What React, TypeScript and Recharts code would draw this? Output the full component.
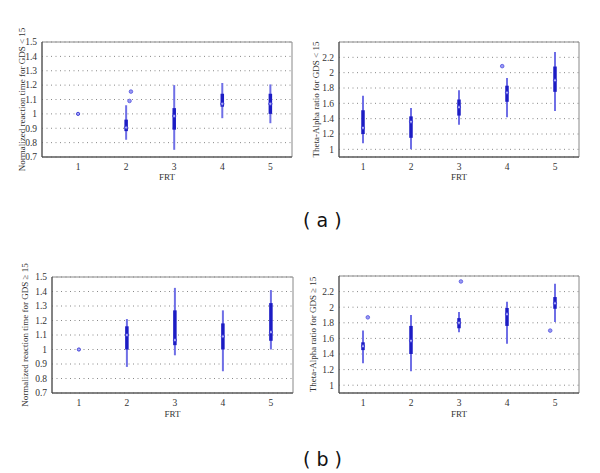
import { ScatterChart, Scatter, ErrorBar, XAxis, YAxis, CartesianGrid, ReferenceArea } from "recharts";

const frt = [1, 2, 3, 4, 5];
const rtTicks = [0.7, 0.8, 0.9, 1, 1.1, 1.2, 1.3, 1.4, 1.5];
const ratioTicks = [1, 1.2, 1.4, 1.6, 1.8, 2, 2.2];

// (a) GDS < 15 — normalized reaction time
const rtLowWhiskLo = [1, 0.82, 0.75, 0.97, 0.935];
const rtLowBoxLo = [1, 0.88, 0.89, 1.05, 1.0];
const rtLowMedian = [1, 0.905, 0.985, 1.07, 1.07];
const rtLowBoxHi = [1, 0.96, 1.04, 1.14, 1.14];
const rtLowWhiskHi = [1, 1.06, 1.2, 1.215, 1.205];
const rtLowOutX = [2.07, 2.1];
const rtLowOutY = [1.09, 1.155];

// (a) GDS < 15 — theta-alpha ratio
const taLowWhiskLo = [1.08, 1.0, 1.32, 1.42, 1.5];
const taLowBoxLo = [1.2, 1.15, 1.44, 1.62, 1.75];
const taLowMedian = [1.28, 1.36, 1.55, 1.74, 1.9];
const taLowBoxHi = [1.51, 1.43, 1.65, 1.83, 2.08];
const taLowWhiskHi = [1.7, 1.54, 1.77, 1.93, 2.27];
const taLowOutX = [3.9];
const taLowOutY = [2.085];

// (b) GDS >= 15 — normalized reaction time
const rtHighWhiskLo = [1, 0.88, 0.96, 0.85, 1.0];
const rtHighBoxLo = [1, 1.0, 1.03, 1.0, 1.06];
const rtHighMedian = [1, 1.1, 1.065, 1.09, 1.12];
const rtHighBoxHi = [1, 1.16, 1.27, 1.18, 1.32];
const rtHighWhiskHi = [1, 1.21, 1.425, 1.27, 1.41];
const rtHighOutX: number[] = [];
const rtHighOutY: number[] = [];

// (b) GDS >= 15 — theta-alpha ratio
const taHighWhiskLo = [1.28, 1.18, 1.68, 1.53, 1.81];
const taHighBoxLo = [1.45, 1.4, 1.73, 1.76, 1.98];
const taHighMedian = [1.5, 1.57, 1.8, 1.91, 2.05];
const taHighBoxHi = [1.55, 1.76, 1.86, 1.99, 2.13];
const taHighWhiskHi = [1.7, 1.9, 1.94, 2.07, 2.3];
const taHighOutX = [1.1, 3.04, 4.9];
const taHighOutY = [1.87, 2.33, 1.7];

const boxRows = (lo: number[], bLo: number[], med: number[], bHi: number[], hi: number[]) =>
  frt.map((x, i) => ({
    x,
    y: med[i],
    whisk: [med[i] - lo[i], hi[i] - med[i]],
    box: [med[i] - bLo[i], bHi[i] - med[i]],
  }));

const outRows = (xs: number[], ys: number[]) => xs.map((x, i) => ({ x, y: ys[i] }));

const serif = "'Liberation Serif', 'DejaVu Serif', serif";
const tickStyle = { fontSize: 9.5, fill: "#333", fontFamily: serif };
const labelStyle = { fontSize: 9, fill: "#333", fontFamily: serif };

const MedianDot = (p: any) => (
  <circle cx={p.cx} cy={p.cy} r={1.6} fill="#a8a8f8" stroke="#3030d0" strokeWidth={0.9} />
);
const OutlierDot = (p: any) => (
  <circle cx={p.cx} cy={p.cy} r={1.8} fill="#9a9af2" stroke="#5050e0" strokeWidth={0.8} />
);

interface PanelProps {
  left: number;
  top: number;
  margin: { top: number; right: number; bottom: number; left: number };
  yWidth: number;
  xHeight: number;
  xDomain: [number, number];
  yDomain: [number, number];
  yTicks: number[];
  rows: any[];
  outliers: any[];
  yLabel: string;
  yLabelOffset: number;
  xLabelOffset: number;
}

function Panel(p: PanelProps) {
  return (
    <div style={{ position: "absolute", left: p.left, top: p.top, fontFamily: serif }}>
      <ScatterChart width={300} height={200} margin={p.margin}>
        <CartesianGrid horizontal vertical={false} stroke="#888" strokeDasharray="1 3.5" />
        <XAxis
          type="number"
          dataKey="x"
          domain={p.xDomain}
          ticks={frt}
          interval={0}
          allowDataOverflow
          height={p.xHeight}
          tickSize={0}
          tickMargin={6}
          tick={tickStyle}
          axisLine={{ stroke: "#444" }}
          label={{ value: "FRT", position: "insideTop", offset: p.xLabelOffset, style: labelStyle }}
        />
        <YAxis
          type="number"
          dataKey="y"
          domain={p.yDomain}
          ticks={p.yTicks}
          interval={0}
          allowDataOverflow
          width={p.yWidth}
          tickSize={0}
          tickMargin={5}
          tick={tickStyle}
          axisLine={{ stroke: "#444" }}
          label={{
            value: p.yLabel,
            angle: -90,
            position: "insideLeft",
            offset: p.yLabelOffset,
            style: { ...labelStyle, textAnchor: "middle" },
          }}
        />
        <ReferenceArea
          x1={p.xDomain[0]}
          x2={p.xDomain[1]}
          y1={p.yDomain[0]}
          y2={p.yDomain[1]}
          fill="none"
          stroke="#888"
          strokeWidth={1}
        />
        <Scatter data={p.rows} isAnimationActive={false} shape={MedianDot}>
          <ErrorBar dataKey="whisk" direction="y" width={0} stroke="#6f6fe6" strokeWidth={2} />
          <ErrorBar dataKey="box" direction="y" width={0} stroke="#1c1cc4" strokeWidth={3.5} />
        </Scatter>
        <Scatter data={p.outliers} isAnimationActive={false} shape={OutlierDot} />
      </ScatterChart>
    </div>
  );
}

export default function App() {
  return (
    <div
      style={{
        position: "absolute",
        left: 0,
        top: 0,
        width: 600,
        height: 473,
        background: "#fff",
        overflow: "hidden",
      }}
    >
      <Panel
        left={0}
        top={0}
        margin={{ top: 42, right: 8, bottom: 0, left: 0 }}
        yWidth={42}
        xHeight={43}
        xDomain={[0.25, 5.45]}
        yDomain={[0.7, 1.5]}
        yTicks={rtTicks}
        rows={boxRows(rtLowWhiskLo, rtLowBoxLo, rtLowMedian, rtLowBoxHi, rtLowWhiskHi)}
        outliers={outRows(rtLowOutX, rtLowOutY)}
        yLabel="Normalized reaction time for GDS < 15"
        yLabelOffset={22}
        xLabelOffset={17}
      />
      <Panel
        left={300}
        top={0}
        margin={{ top: 42, right: 21, bottom: 0, left: 0 }}
        yWidth={39}
        xHeight={43}
        xDomain={[0.5, 5.5]}
        yDomain={[0.9, 2.4]}
        yTicks={ratioTicks}
        rows={boxRows(taLowWhiskLo, taLowBoxLo, taLowMedian, taLowBoxHi, taLowWhiskHi)}
        outliers={outRows(taLowOutX, taLowOutY)}
        yLabel="Theta-Alpha ratio for GDS < 15"
        yLabelOffset={16}
        xLabelOffset={17}
      />
      <Panel
        left={0}
        top={240}
        margin={{ top: 37, right: 7, bottom: 0, left: 0 }}
        yWidth={52}
        xHeight={47}
        xDomain={[0.44, 5.46]}
        yDomain={[0.7, 1.5]}
        yTicks={rtTicks}
        rows={boxRows(rtHighWhiskLo, rtHighBoxLo, rtHighMedian, rtHighBoxHi, rtHighWhiskHi)}
        outliers={outRows(rtHighOutX, rtHighOutY)}
        yLabel="Normalized reaction time for GDS ≥ 15"
        yLabelOffset={25}
        xLabelOffset={18}
      />
      <Panel
        left={300}
        top={240}
        margin={{ top: 36, right: 21, bottom: 0, left: 0 }}
        yWidth={39}
        xHeight={47}
        xDomain={[0.5, 5.5]}
        yDomain={[0.9, 2.4]}
        yTicks={ratioTicks}
        rows={boxRows(taHighWhiskLo, taHighBoxLo, taHighMedian, taHighBoxHi, taHighWhiskHi)}
        outliers={outRows(taHighOutX, taHighOutY)}
        yLabel="Theta-Alpha ratio for GDS ≥ 15"
        yLabelOffset={13}
        xLabelOffset={18}
      />
      <div
        style={{
          position: "absolute",
          left: 303,
          top: 211,
          fontSize: 19,
          lineHeight: "19px",
          fontFamily: "DejaVu Sans",
          whiteSpace: "pre",
          color: "#111",
        }}
      >
        ( a )
      </div>
      <div
        style={{
          position: "absolute",
          left: 303,
          top: 450,
          fontSize: 19,
          lineHeight: "19px",
          fontFamily: "DejaVu Sans",
          whiteSpace: "pre",
          color: "#111",
        }}
      >
        ( b )
      </div>
    </div>
  );
}
